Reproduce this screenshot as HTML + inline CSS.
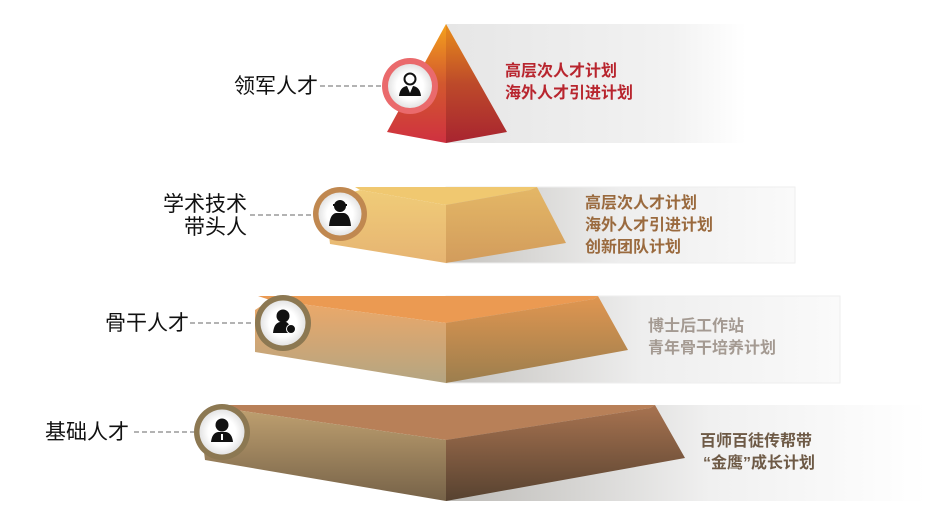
<!DOCTYPE html>
<html><head><meta charset="utf-8"><style>
html,body{margin:0;padding:0;background:#fff;width:926px;height:528px;overflow:hidden}
svg{display:block}
text{font-family:"Liberation Sans","Noto Sans CJK SC",sans-serif}
.lab{font-size:21px;fill:#111}
.t{font-size:16px;font-weight:bold}
</style></head><body>
<svg width="926" height="528" viewBox="0 0 926 528" xmlns="http://www.w3.org/2000/svg">
<defs>
<linearGradient id="p1" x1="0" x2="1"><stop offset="0" stop-color="#e6e6e6"/><stop offset="0.75" stop-color="#f2f2f2"/><stop offset="1" stop-color="#fff"/></linearGradient>
<linearGradient id="p2" x1="0" x2="1"><stop offset="0" stop-color="#c4c2be"/><stop offset="0.5" stop-color="#eeeeee"/><stop offset="1" stop-color="#fafafa"/></linearGradient>
<linearGradient id="p4" x1="0" x2="1"><stop offset="0" stop-color="#bcbab6"/><stop offset="0.55" stop-color="#f0f0f0"/><stop offset="1" stop-color="#fff"/></linearGradient>
<linearGradient id="a1" x1="0" y1="0" x2="0" y2="1"><stop offset="0" stop-color="#f5a21c"/><stop offset="0.5" stop-color="#d2582e"/><stop offset="1" stop-color="#cf3140"/></linearGradient>
<linearGradient id="a2" x1="0" y1="0" x2="0" y2="1"><stop offset="0" stop-color="#e98d1a"/><stop offset="0.5" stop-color="#bd4a2a"/><stop offset="1" stop-color="#a82430"/></linearGradient>
<linearGradient id="b1" x1="0" y1="0" x2="0" y2="1"><stop offset="0" stop-color="#f0cc78"/><stop offset="1" stop-color="#e6b472"/></linearGradient>
<linearGradient id="b2" x1="0" y1="0" x2="0" y2="1"><stop offset="0" stop-color="#e4b766"/><stop offset="1" stop-color="#d29c5c"/></linearGradient>
<linearGradient id="c1" x1="0" y1="0" x2="0" y2="1"><stop offset="0" stop-color="#eda868"/><stop offset="1" stop-color="#b4a582"/></linearGradient>
<linearGradient id="c2" x1="0" y1="0" x2="0" y2="1"><stop offset="0" stop-color="#e09650"/><stop offset="1" stop-color="#9c7e4e"/></linearGradient>
<linearGradient id="d1" x1="0" y1="0" x2="0" y2="1"><stop offset="0" stop-color="#bfa070"/><stop offset="1" stop-color="#766248"/></linearGradient>
<linearGradient id="d2" x1="0" y1="0" x2="0" y2="1"><stop offset="0" stop-color="#a87350"/><stop offset="1" stop-color="#574230"/></linearGradient>
<radialGradient id="w"><stop offset="0.6" stop-color="#fff"/><stop offset="1" stop-color="#e4e4e4"/></radialGradient>
</defs>

<rect x="446" y="24" width="300" height="119" fill="url(#p1)"/>
<rect x="446" y="187" width="349" height="76" fill="url(#p2)" stroke="#eee"/>
<rect x="446" y="296" width="394" height="87" fill="url(#p2)" stroke="#eee"/>
<rect x="446" y="405" width="480" height="96" fill="url(#p4)"/>

<polygon points="446,24 387,132 446,143" fill="url(#a1)"/>
<polygon points="446,24 446,143 507,132" fill="url(#a2)"/>

<polygon points="355,187 537,187 530,190 446,205 360,190" fill="#f0c870"/>
<polygon points="360,190 446,205 446,263 330,244 325,200" fill="url(#b1)"/>
<polygon points="446,205 530,190 537,187 566,243 446,263" fill="url(#b2)"/>

<polygon points="258,296 598,296 594,299 446,323 270,300" fill="#eb9a52"/>
<polygon points="270,300 446,323 446,383 255,352 255,310" fill="url(#c1)"/>
<polygon points="446,323 594,299 598,296 628,350 446,383" fill="url(#c2)"/>

<polygon points="215,405 655,405 650,408 446,440 222,408" fill="#b88058"/>
<polygon points="222,408 446,440 446,501 205,460 200,420" fill="url(#d1)"/>
<polygon points="446,440 650,408 655,405 685,458 446,501" fill="url(#d2)"/>

<g stroke="#9a9a9a" stroke-width="1.5" stroke-dasharray="5,3">
<line x1="320" y1="86" x2="383" y2="86"/>
<line x1="250" y1="215" x2="313" y2="215"/>
<line x1="190" y1="323" x2="254" y2="323"/>
<line x1="134" y1="432" x2="194" y2="432"/>
</g>

<circle cx="410" cy="86" r="28" fill="#ea6a6c"/><circle cx="410" cy="86" r="22" fill="url(#w)"/>
<circle cx="340" cy="214" r="27" fill="#c08850"/><circle cx="340" cy="214" r="21.5" fill="url(#w)"/>
<circle cx="283" cy="323" r="28" fill="#8c7852"/><circle cx="283" cy="323" r="22.5" fill="url(#w)"/>
<circle cx="222" cy="432" r="28" fill="#8c7852"/><circle cx="222" cy="432" r="22.5" fill="url(#w)"/>

<g fill="#111">
<circle cx="410" cy="79" r="5.5" fill="#fff" stroke="#111" stroke-width="2"/>
<path d="M399,96 Q400,87 407,86 L410,93 L413,86 Q420,87 421,96 Z"/>
<circle cx="340" cy="206" r="6"/><rect x="333" y="204" width="14" height="2"/>
<path d="M329,226 Q330,214 336,213 L344,213 Q350,214 351,226 Z"/>
<circle cx="283" cy="316" r="6.5"/><path d="M273,333 Q274,323 280,322 L286,322 Q290,323 291,333 Z"/>
<circle cx="291" cy="329" r="4.5" stroke="#fff" stroke-width="1"/>
<circle cx="222" cy="425" r="6.5"/><path d="M211,442 Q212,433 218,432 L226,432 Q232,433 233,442 Z"/>
<rect x="221" y="434" width="2" height="6" fill="#fff"/>
</g>

<text class="lab" x="234" y="93">领军人才</text>
<text class="lab" x="247" y="211" text-anchor="end">学术技术</text>
<text class="lab" x="247" y="234" text-anchor="end">带头人</text>
<text class="lab" x="105" y="330">骨干人才</text>
<text class="lab" x="45" y="439">基础人才</text>

<g fill="#b8252e"><text class="t" x="505" y="76">高层次人才计划</text><text class="t" x="505" y="98">海外人才引进计划</text></g>
<g fill="#9a6a3e"><text class="t" x="585" y="208">高层次人才计划</text><text class="t" x="585" y="230">海外人才引进计划</text><text class="t" x="585" y="252">创新团队计划</text></g>
<g fill="#a49a92"><text class="t" x="648" y="331">博士后工作站</text><text class="t" x="648" y="353">青年骨干培养计划</text></g>
<g fill="#6e5a46"><text class="t" x="700" y="446">百师百徒传帮带</text><text class="t" x="703" y="468">“金鹰”成长计划</text></g>
</svg>
</body></html>
